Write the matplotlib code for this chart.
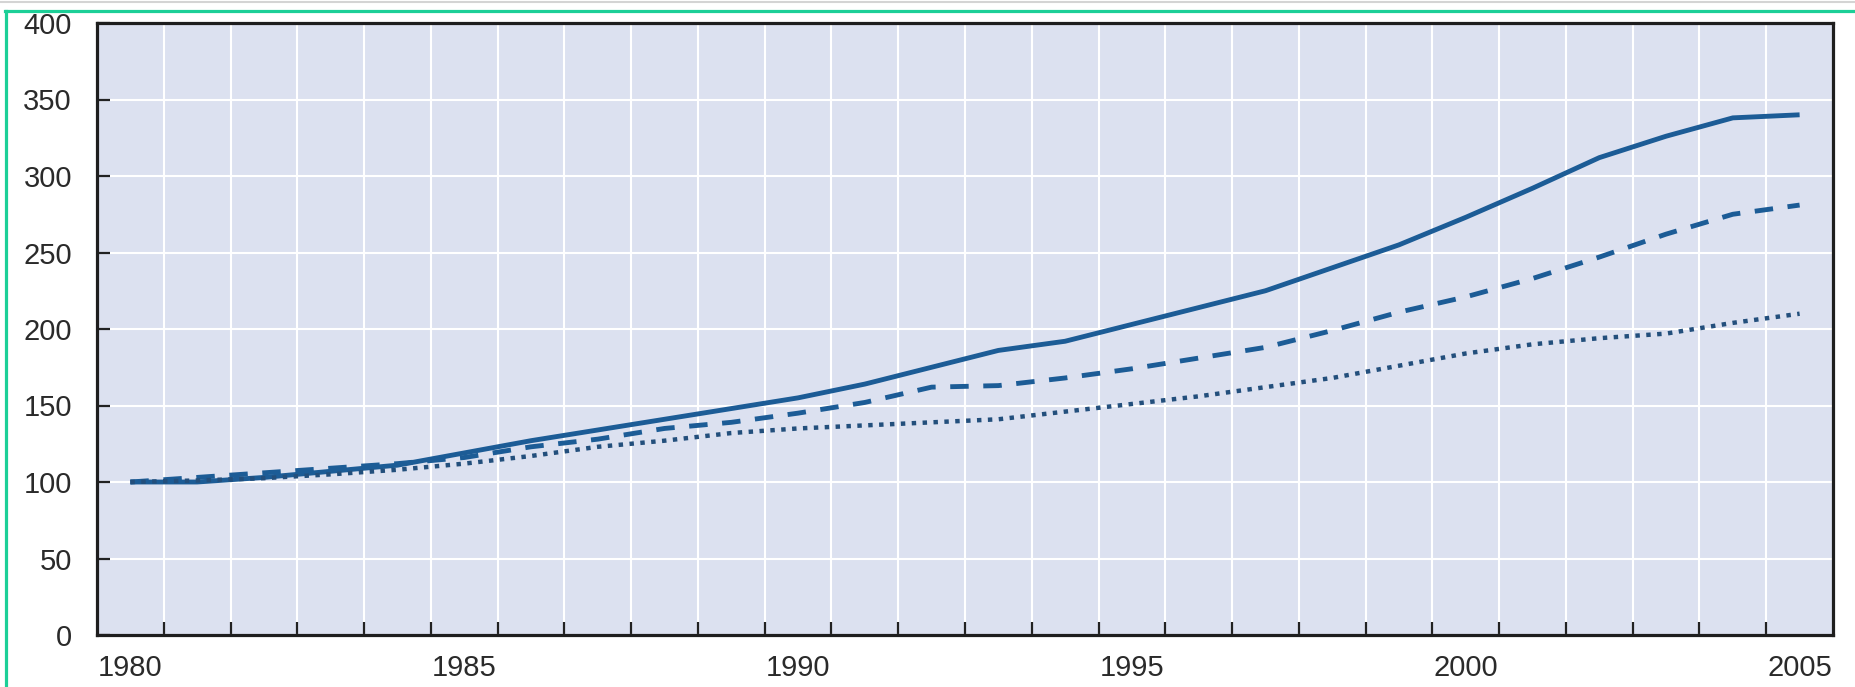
import matplotlib
matplotlib.use('Agg')
import matplotlib.pyplot as plt
from matplotlib.lines import Line2D
from matplotlib.ticker import FixedLocator

plt.rcParams['font.family'] = ['Liberation Sans', 'DejaVu Sans']

# ---- data ----
years = list(range(1980, 2006))
solid_series = [100, 100, 103, 107, 111, 119, 127, 134, 141, 148, 155, 164, 175,
                186, 192, 203, 214, 225, 240, 255, 273, 292, 312, 326, 338, 340]
dashed_series = [100, 103, 106, 109, 112, 116, 123, 128, 135, 139, 145, 152, 162,
                 163, 168, 174, 181, 188, 199, 211, 221, 233, 247, 262, 275, 281]
dotted_series = [100, 101, 102.5, 105, 108, 112, 117, 123, 127, 132, 135, 137, 139,
                 141, 146, 151, 156, 162, 168, 176, 184, 190, 194, 197, 204, 210]
ytick_values = [0, 50, 100, 150, 200, 250, 300, 350, 400]
xtick_years = [1980, 1985, 1990, 1995, 2000, 2005]
xtick_labels = ['1980', '1985', '1990', '1995', '2000', '2005']

W, H, DPI = 1856, 687, 100
fig = plt.figure(figsize=(W / DPI, H / DPI), dpi=DPI)
fig.patch.set_facecolor('white')

# screenshot frame artefacts
fig.add_artist(Line2D([0, 1], [1 - 2 / H, 1 - 2 / H], transform=fig.transFigure,
                      color='#d4d4d4', lw=1.5))
fig.add_artist(Line2D([5.5 / W, 1], [1 - 11.3 / H, 1 - 11.3 / H], transform=fig.transFigure,
                      color='#1ccf97', lw=2.3))
fig.add_artist(Line2D([6 / W, 6 / W], [0, 1 - 11.3 / H], transform=fig.transFigure,
                      color='#1ccf97', lw=2.3))

left, right, bottom, top = 97, 1833, 635, 23
ax = fig.add_axes([left / W, 1 - bottom / H, (right - left) / W, (bottom - top) / H])
ax.set_facecolor('#dce1f0')

line_color = '#1c5c96'
ax.plot(years, solid_series, color=line_color, lw=3.5, solid_capstyle='butt',
        solid_joinstyle='round', zorder=3)
ax.plot(years, dashed_series, color=line_color, lw=3.5, linestyle=(0, (3.8, 3.0)),
        dash_capstyle='butt', zorder=3)
ax.plot(years, dotted_series, color='#234f7c', lw=3.2, linestyle=(0, (1.0, 1.45)),
        dash_capstyle='butt', zorder=3)

ax.set_xlim(1979.5, 2005.5)
ax.set_ylim(0, 400)

ax.set_xticks(xtick_years)
ax.set_xticklabels(xtick_labels)
ax.xaxis.set_minor_locator(FixedLocator([y + 0.5 for y in years[:-1]]))
ax.set_yticks(ytick_values)
ax.set_yticklabels([str(v) for v in ytick_values])

ax.tick_params(axis='x', which='major', length=0, pad=14, labelsize=21, labelcolor='#2a2a2a')
ax.tick_params(axis='x', which='minor', direction='in', length=9.5, width=1.6, color='#222222')
ax.tick_params(axis='y', which='major', direction='in', length=9, width=1.6,
               color='#222222', pad=18, labelsize=21, labelcolor='#2a2a2a')

ax.grid(False)
ax.xaxis.grid(True, which='minor', color='white', lw=1.5, zorder=1)
ax.yaxis.grid(True, which='major', color='white', lw=1.5, zorder=1)
ax.set_axisbelow(True)

for side in ['left', 'bottom', 'top', 'right']:
    ax.spines[side].set_color('#1e1e1e')
    ax.spines[side].set_linewidth(2.3)

fig.savefig('out.png', dpi=DPI, facecolor='white')
